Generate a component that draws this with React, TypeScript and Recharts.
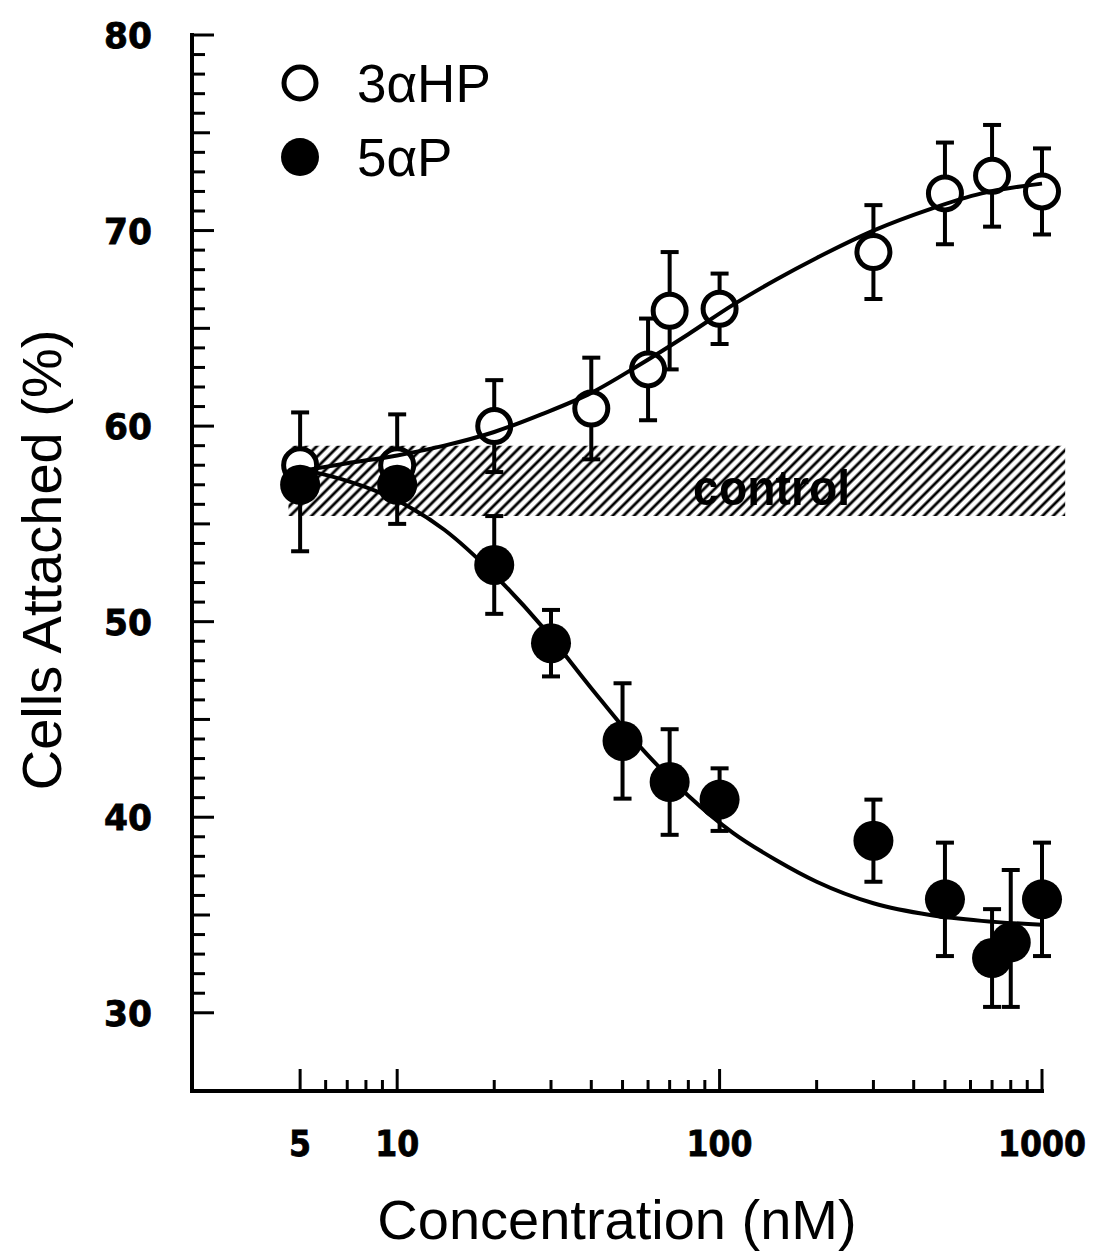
import React from 'react';
import {
  ComposedChart,
  Scatter,
  Line,
  XAxis,
  YAxis,
  ErrorBar,
  ReferenceArea,
  ReferenceDot,
  Legend,
  Label,
} from 'recharts';

// ---- data ----
const seriesNames = ['3αHP', '5αP'];

const hp3Conc = [5, 10, 20, 40, 60, 70, 100, 300, 500, 700, 1000];
const hp3Mean = [58, 58, 60, 60.9, 62.9, 65.9, 66, 68.9, 71.9, 72.8, 72];
const hp3Err = [[0, 2.7], [0, 2.6], [2.35, 2.35], [2.6, 2.6], [2.6, 2.6], [3, 3], [1.8, 1.8], [2.4, 2.4], [2.6, 2.6], [2.6, 2.6], [2.2, 2.2]];

const p5Conc = [5, 10, 20, 30, 50, 70, 100, 300, 500, 700, 800, 1000];
const p5Mean = [57, 57, 52.9, 48.9, 43.9, 41.8, 40.9, 38.8, 35.8, 32.8, 33.6, 35.8];
const p5Err = [[3.4, 0], [2.0, 0], [2.5, 2.5], [1.7, 1.7], [2.95, 2.95], [2.7, 2.7], [1.6, 1.6], [2.1, 2.1], [2.9, 2.9], [2.5, 2.5], [3.3, 3.7], [2.9, 2.9]];

// fitted curves
const curveX = [5, 7, 10, 14, 20, 28, 40, 56, 80, 110, 150, 200, 300, 450, 650, 1000];
const hp3CurveY = [57.7, 58.1, 58.5, 59.0, 59.7, 60.6, 61.7, 63.1, 64.7, 66.2, 67.5, 68.6, 70.0, 71.1, 71.9, 72.4];
const p5CurveY = [57.8, 57.2, 56.2, 54.7, 52.4, 49.8, 46.6, 43.7, 41.1, 39.2, 37.8, 36.7, 35.6, 35.0, 34.7, 34.5];

// control band
const controlX = [4.6, 1180];
const controlY = [55.4, 59];
const controlLabelPos = [145, 56.9];

// axes
const xTicks = [5, 6, 7, 8, 9, 10, 20, 30, 40, 50, 60, 70, 80, 90, 100, 200, 300, 400, 500, 600, 700, 800, 900, 1000];
const xTickLabels = [5, 10, 100, 1000];
const yTicks = [30, 31, 32, 33, 34, 35, 36, 37, 38, 39, 40, 41, 42, 43, 44, 45, 46, 47, 48, 49, 50, 51, 52, 53, 54, 55, 56, 57, 58, 59, 60, 61, 62, 63, 64, 65, 66, 67, 68, 69, 70, 71, 72, 73, 74, 75, 76, 77, 78, 79, 80];
const yTickLabels = [30, 40, 50, 60, 70, 80];
const xDomain = [2.31, 1000];
const yDomain = [26, 80];

const hp3Data = hp3Conc.map((x, i) => ({ x, y: hp3Mean[i], err: hp3Err[i] }));
const p5Data = p5Conc.map((x, i) => ({ x, y: p5Mean[i], err: p5Err[i] }));
const hp3Curve = curveX.map((x, i) => ({ x, y: hp3CurveY[i] }));
const p5Curve = curveX.map((x, i) => ({ x, y: p5CurveY[i] }));

const SANS = "'Liberation Sans', Arial, Helvetica, sans-serif";
const TICKFONT = "'DejaVu Sans', 'Liberation Sans', sans-serif";

const XTick = (props: any) => {
  const { x, y, payload } = props;
  const v = payload.value;
  const major = xTickLabels.includes(v);
  return (
    <g>
      <line x1={x} x2={x} y1={y} y2={y - (major ? 22 : 11)} stroke="#000" strokeWidth={3} />
      {major && (
        <text x={x} y={y + 65} textAnchor="middle" fontSize={36} fontWeight="bold" fontFamily={TICKFONT} fill="#000" stroke="#000" strokeWidth={0.8} textLength={String(v).length * 22} lengthAdjust="spacingAndGlyphs">
          {v}
        </text>
      )}
    </g>
  );
};

const YTick = (props: any) => {
  const { x, y, payload } = props;
  const v = payload.value;
  const major = yTickLabels.includes(v);
  const len = major ? 22 : v % 5 === 0 ? 18 : 13;
  return (
    <g>
      <line x1={x} x2={x + len} y1={y} y2={y} stroke="#000" strokeWidth={3} />
      {major && (
        <text x={x - 40} y={y} dy="0.36em" textAnchor="end" fontSize={36} fontWeight="bold" fontFamily={TICKFONT} fill="#000" stroke="#000" strokeWidth={0.8} textLength={48} lengthAdjust="spacingAndGlyphs">
          {v}
        </text>
      )}
    </g>
  );
};

const YTitle = (props: any) => {
  const vb = props.viewBox;
  const tx = vb.x - 31;
  const ty = vb.y + vb.height / 2 - 3;
  return (
    <text x={tx} y={ty} transform={`rotate(-90, ${tx}, ${ty})`} textAnchor="middle" fontSize={56} fontFamily={SANS} fill="#000">
      Cells Attached (%)
    </text>
  );
};

const XTitle = (props: any) => {
  const vb = props.viewBox;
  return (
    <text x={vb.x + vb.width / 2} y={vb.y + 148} textAnchor="middle" fontSize={56} fontFamily={SANS} fill="#000">
      Concentration (nM)
    </text>
  );
};

const ControlLabel = (props: any) => {
  const vb = props.viewBox;
  const cx = vb.x + (vb.width || 0) / 2;
  const cy = vb.y + (vb.height || 0) / 2;
  return (
    <text x={cx} y={cy} dy="0.36em" textAnchor="middle" fontSize={50} fontWeight="bold" fontFamily={SANS} fill="#000" textLength={157} lengthAdjust="spacingAndGlyphs">
      control
    </text>
  );
};

const OpenCircle = (props: any) => (
  <circle cx={props.cx} cy={props.cy} r={16.5} fill="#fff" stroke="#000" strokeWidth={5} />
);
const FilledCircle = (props: any) => (
  <circle cx={props.cx} cy={props.cy} r={20} fill="#000" stroke="none" />
);

const LegendContent = () => (
  <svg width={300} height={150} style={{ display: 'block' }}>
    <circle cx={30} cy={38} r={16} fill="#fff" stroke="#000" strokeWidth={5} />
    <text x={87} y={57} fontSize={53} fontFamily={SANS} fill="#000">{seriesNames[0]}</text>
    <circle cx={30} cy={112} r={19} fill="#000" />
    <text x={87} y={131} fontSize={53} fontFamily={SANS} fill="#000">{seriesNames[1]}</text>
  </svg>
);

export default function App() {
  return (
    <div>
      <svg width={0} height={0} style={{ position: 'absolute' }}>
        <defs>
          <pattern id="hatch" patternUnits="userSpaceOnUse" width={7.6} height={7.6} patternTransform="rotate(45)">
            <line x1={3.8} y1={0} x2={3.8} y2={7.6} stroke="#000" strokeWidth={2.8} />
          </pattern>
        </defs>
      </svg>
      <ComposedChart
        width={1089}
        height={1252}
        margin={{ top: 27, right: 55, bottom: 69, left: 84 }}
        style={{ background: '#fff' }}
      >
        <XAxis
          dataKey="x"
          type="number"
          scale="log"
          domain={xDomain}
          ticks={xTicks}
          interval={0}
          tick={<XTick />}
          tickLine={false}
          tickSize={0}
          tickMargin={0}
          height={100}
          axisLine={{ stroke: '#000', strokeWidth: 4, strokeLinecap: 'square' }}
        >
          <Label content={XTitle} />
        </XAxis>
        <YAxis
          type="number"
          domain={yDomain}
          ticks={yTicks}
          interval={0}
          tick={<YTick />}
          tickLine={false}
          tickSize={0}
          tickMargin={0}
          width={100}
          axisLine={{ stroke: '#000', strokeWidth: 4, strokeLinecap: 'square' }}
        >
          <Label content={YTitle} />
        </YAxis>
        <ReferenceArea
          x1={controlX[0]}
          x2={controlX[1]}
          y1={controlY[0]}
          y2={controlY[1]}
          fill="url(#hatch)"
          fillOpacity={1}
          stroke="none"
          ifOverflow="visible"
        />
        <ReferenceDot
          x={controlLabelPos[0]}
          y={controlLabelPos[1]}
          r={0}
          fill="none"
          stroke="none"
          ifOverflow="visible"
          label={<Label content={ControlLabel} />}
        />
        <Scatter name={seriesNames[0]} data={hp3Data} dataKey="y" shape={<OpenCircle />} isAnimationActive={false}>
          <ErrorBar dataKey="err" direction="y" width={9} stroke="#000" strokeWidth={4} />
        </Scatter>
        <Scatter name={seriesNames[1]} data={p5Data} dataKey="y" shape={<FilledCircle />} isAnimationActive={false}>
          <ErrorBar dataKey="err" direction="y" width={9} stroke="#000" strokeWidth={4} />
        </Scatter>
        <Line
          data={hp3Curve}
          dataKey="y"
          type="monotone"
          stroke="#000"
          strokeWidth={4}
          dot={false}
          activeDot={false}
          legendType="none"
          isAnimationActive={false}
          zIndex={700}
        />
        <Line
          data={p5Curve}
          dataKey="y"
          type="monotone"
          stroke="#000"
          strokeWidth={4}
          dot={false}
          activeDot={false}
          legendType="none"
          isAnimationActive={false}
          zIndex={700}
        />
        <Legend
          layout="vertical"
          align="center"
          verticalAlign="middle"
          content={<LegendContent />}
          wrapperStyle={{ position: 'absolute', left: 262, top: 37, width: 300, height: 150 }}
        />
      </ComposedChart>
    </div>
  );
}
